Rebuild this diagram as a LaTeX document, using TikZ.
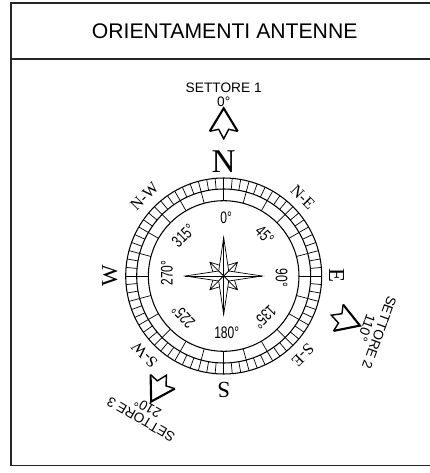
\documentclass[tikz,border=0pt]{standalone}
\usepackage{fontspec}
\usepackage{graphicx}
\setmainfont{Liberation Serif}
\setsansfont{Liberation Sans}
\usetikzlibrary{positioning}

\begin{document}
\begin{tikzpicture}[
  frameline/.style={line width=0.6pt,black!85},
  ringline/.style={line width=0.6pt},
  tickline/.style={line width=0.4pt},
  title/.style={font=\fontsize{12.05}{14}\sffamily,inner sep=0pt},
  cardinal/.style={font=\fontsize{13}{15}\selectfont,inner sep=0pt},
  minorpoint/.style={font=\fontsize{9.2}{11}\selectfont,inner sep=0pt},
  degree/.style={font=\fontsize{9.5}{11}\sffamily,inner sep=0pt},
  sector/.style={font=\fontsize{7.8}{9}\sffamily,inner sep=0pt,transform shape},
  pointer/.style={line width=1.2pt,miter limit=10},
  notch/.style={line width=0.8pt,miter limit=10},
  spike/.style={line width=0.4pt,fill=white},
]
\useasboundingbox (-4.474,-3.94) rectangle (4.126,5.52);

% Frame, open on the right where the page cuts it
\draw[frameline] (4.126,5.46) -- (-4.254,5.46) -- (-4.254,-3.79) -- (4.126,-3.79);
\coordinate (headL) at (-4.254,4.34);
\coordinate (headR) at (4.126,4.34);
\draw[frameline] (headL) -- (headR);
\node[title] (heading) at (0.02,4.9) {ORIENTAMENTI ANTENNE};

% Rings
\node[circle,draw,ringline,minimum size=3.92cm,inner sep=0pt] (ringOuter) at (0,0) {};
\node[circle,draw,ringline,minimum size=3.48cm,inner sep=0pt] (ringMiddle) at (0,0) {};
\node[circle,draw,ringline,minimum size=3.012cm,inner sep=0pt] (ringInner) at (0,0) {};

% Graduation
\foreach \a in {0,5,...,355}
  \draw[tickline] (\a:1.74) -- (\a:1.96);
\foreach \a in {0,15,...,345}
  \draw[tickline] (\a:1.506) -- (\a:1.74);

% Star, small points
\foreach \a in {45,135,225,315}
  \draw[spike,rotate=\a] (0.2,0.1) -- (0.39,0) -- (0.2,-0.1) -- (0,0) -- cycle
    (0,0) -- (0.39,0);
% Star, long points
\foreach \a in {0,90,180,270} {
  \draw[spike,rotate=\a] (0,0) -- (0.1,0.1) -- (0.77,0) -- (0.1,-0.1) -- cycle;
  \draw[spike,rotate=\a] (0,0) -- (0.77,0);
}

% Cardinal points
\node[cardinal,font=\fontsize{18.9}{20}\selectfont] (north) at (0,2.28) {N};
\node[cardinal,rotate=-90] (east) at (2.26,0.02) {E};
\node[cardinal,rotate=180] (south) at (0,-2.28) {S};
\node[cardinal,rotate=90] (west) at (-2.28,0) {W};

% Intermediate points
\node[minorpoint,rotate=-45] (ne) at (45:2.24) {N-E};
\node[minorpoint,rotate=-135] (se) at (135:-2.24) {S-E};
\node[minorpoint,rotate=135] (sw) at (225:2.24) {S-W};
\node[minorpoint,rotate=45] (nw) at (135:2.24) {N-W};

% Degrees
\foreach \a/\r/\rot/\t in {87.5/1.16/0/0,-2/1.16/-90/90,-87/1.14/0/180,177/1.14/90/270,
                      45/1.16/-45/45,-45/1.16/-135/135,-135/1.14/135/225,135/1.14/45/315}
  \node[degree,rotate=\rot] (deg\t) at (\a:\r) {\scalebox{.72}[1]{\t°}};

% Antennas
\foreach \az/\r/\n in {0/3.354/1,110/2.9/2,210/2.9/3} {
  \begin{scope}[rotate=-\az,shift={(0,\r)}]
    \draw[notch] (0.28,-0.46) -- (0.1,-0.42) -- (0,-0.61) -- (-0.1,-0.42) -- (-0.28,-0.46);
    \draw[pointer] (-0.28,-0.46) -- (0,0) -- (0.28,-0.46);
    \node[sector] (angle\n) at (0,0.14) {\ifcase\n\or 0°\or 110°\or 210°\fi};
    \node[sector] (name\n) at (0,0.41) {SETTORE \n};
  \end{scope}
}

\end{tikzpicture}
\end{document}
